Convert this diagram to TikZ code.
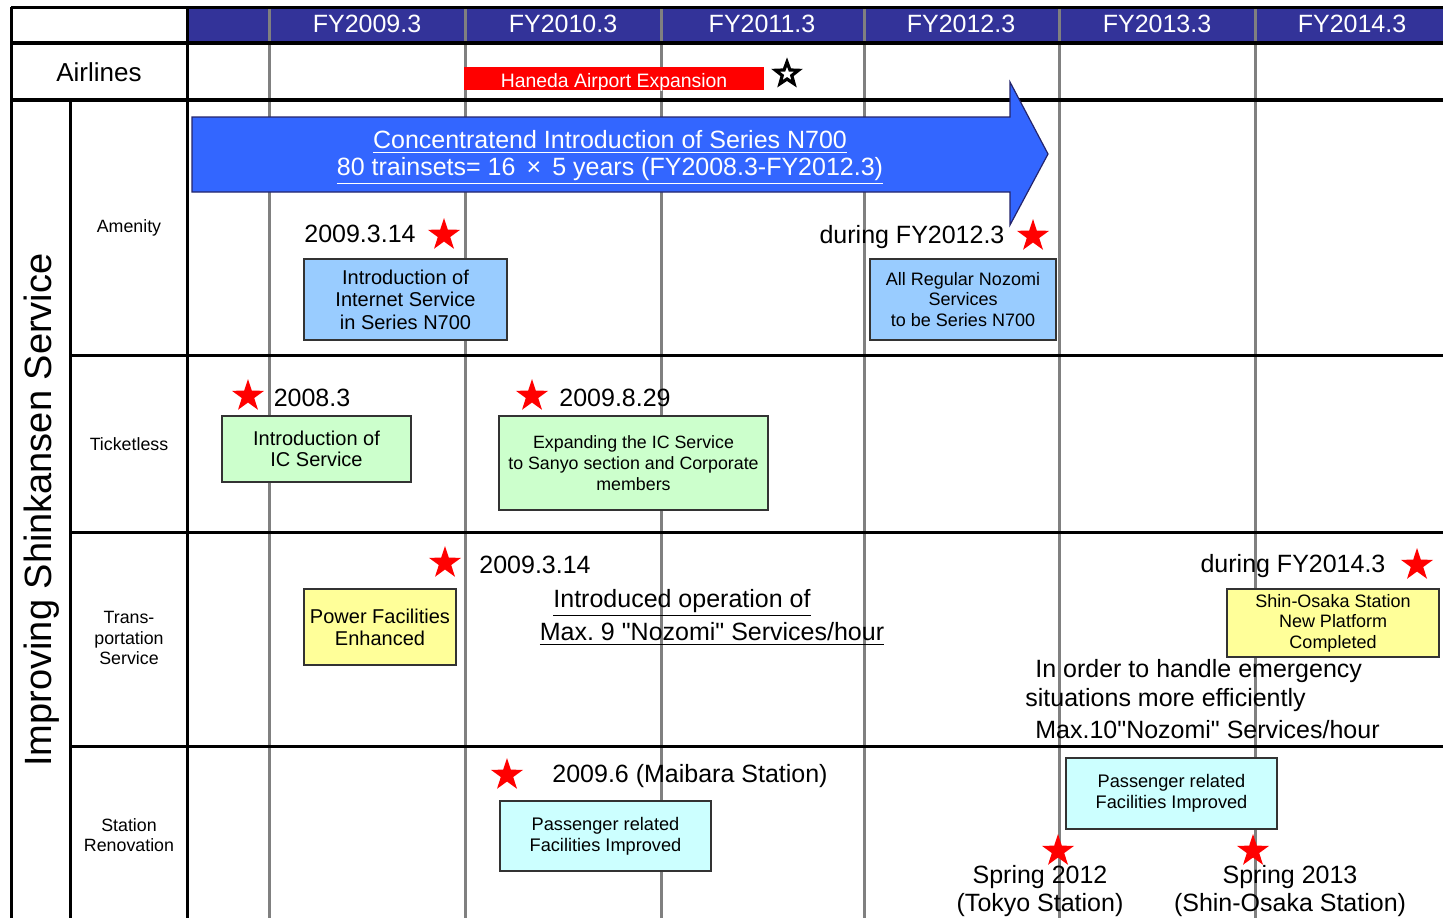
\documentclass[tikz,border=0pt]{standalone}
\usepackage{fontspec}
\setmainfont{Liberation Sans}
\usetikzlibrary{shapes.geometric}
\definecolor{headblue}{HTML}{333399}
\definecolor{arrowblue}{HTML}{3366FF}
\definecolor{amenityfill}{HTML}{99CCFF}
\definecolor{ticketfill}{HTML}{CCFFCC}
\definecolor{transfill}{HTML}{FFFF99}
\definecolor{stationfill}{HTML}{CCFFFF}

\begin{document}
\begin{tikzpicture}[x=0.5pt,y=-0.5pt,
    gridline/.style={line width=1.5pt,draw=gray},
    frameline/.style={line width=1.5pt,draw=black},
    yearlabel/.style={text=white,font=\fontsize{12.5}{14}\selectfont},
    rowlabel/.style={align=center,font=\fontsize{8.9}{10.2}\selectfont},
    redstar/.style={star,star points=5,star point ratio=2.6,fill=red,inner sep=0pt,minimum size=17pt},
    datelabel/.style={align=center,font=\fontsize{12.5}{14}\selectfont},
    eventbox/.style={draw=black!80,line width=0.6pt,align=center,inner sep=0pt},
  ]
        \useasboundingbox (0,0) rectangle (1443,918);

        % header band and year grid
        \fill[headblue] (187,7) rectangle (1443,43);
        \foreach \xg in {269,465,661,864,1059,1255}
            \draw[gridline] (\xg,7) -- (\xg,918);
        \foreach \yr/\xc in {2009/367,2010/563,2011/762,2012/961,2013/1157,2014/1352}
            \node[yearlabel] (fy\yr) at (\xc,24) {FY\yr.3};

        % table frame
        \draw[frameline] (11,7) -- (1443,7);
        \draw[line width=2pt] (11,43) -- (1443,43);
        \draw[line width=2pt] (11,100) -- (1443,100);
        \draw[frameline] (11,7) -- (11,918);
        \draw[frameline] (187,7) -- (187,918);
        \draw[frameline] (70,100) -- (70,918);
        \foreach \yl in {355,532,746}
            \draw[frameline] (70,\yl) -- (1443,\yl);

        % row headings
        \node[font=\fontsize{13}{15}\selectfont] (airlines) at (99,72) {Airlines};
        \node[rotate=90,font=\fontsize{19}{22}\selectfont] (improving) at (42,510) {Improving Shinkansen Service};
        \node[rowlabel] (amenity) at (129,228) {Amenity};
        \node[rowlabel] (ticketless) at (129,444) {Ticketless};
        \node[rowlabel] (transport) at (129,638) {Trans-\\portation\\Service};
        \node[rowlabel] (renovation) at (129,835) {Station\\Renovation};

        % airlines row
        \node[fill=red,text=white,minimum width=150pt,minimum height=11.5pt,inner sep=0pt,
              text height=9pt,text depth=0pt,
              font=\fontsize{9.7}{11}\selectfont] (haneda) at (614,78.5) {Haneda Airport Expansion};
        \node[star,star points=5,star point ratio=2.4,draw=black,fill=white,line width=1.6pt,
              inner sep=0pt,minimum size=12pt] (hanedastar) at (787,74) {};

        % big arrow
        \filldraw[fill=arrowblue,draw=headblue!70!black,line width=0.6pt]
            (192,117) -- (1010,117) -- (1010,82) -- (1048,154) -- (1010,225) -- (1010,192) -- (192,192) -- cycle;
        \node[text=white,font=\fontsize{12.5}{14}\selectfont] (arrowtop) at (610,142)
            {\underline{Concentratend Introduction of Series N700}};
        \node[text=white,font=\fontsize{12.5}{14}\selectfont] (arrowbottom) at (610,171)
            {\underline{80 trainsets= 16\ \,×\ \,5 years (FY2008.3-FY2012.3)}};

        % amenity
        \node[datelabel] (internetdate) at (360,234) {2009.3.14};
        \node[redstar] (internetstar) at (444,235) {};
        \node[eventbox,fill=amenityfill,minimum width=101.5pt,minimum height=40.5pt,
              font=\fontsize{10}{11.25}\selectfont] (internet) at (405.5,299.5)
            {Introduction of\\Internet Service\\in Series N700};
        \node[datelabel] (nozomidate) at (912,237) {during FY2012.3};
        \node[redstar] (nozomistar) at (1033,236) {};
        \node[eventbox,fill=amenityfill,minimum width=93pt,minimum height=40.5pt,
              font=\fontsize{9}{10.25}\selectfont] (nozomi) at (963,299.5)
            {All Regular Nozomi\\Services\\to be Series N700};

        % ticketless
        \node[redstar] (icstar) at (248,396) {};
        \node[datelabel] (icdate) at (312,398) {2008.3};
        \node[eventbox,fill=ticketfill,minimum width=94.5pt,minimum height=33pt,
              font=\fontsize{10}{10.5}\selectfont] (icservice) at (316.5,449)
            {Introduction of\\IC Service};
        \node[redstar] (sanyostar) at (532,396) {};
        \node[datelabel] (sanyodate) at (615,398) {2009.8.29};
        \node[eventbox,fill=ticketfill,minimum width=134.5pt,minimum height=47pt,
              font=\fontsize{8.9}{10.5}\selectfont] (sanyo) at (633.5,463)
            {Expanding the IC Service\\to Sanyo section and Corporate\\members};

        % transportation service
        \node[redstar] (powerstar) at (445,563) {};
        \node[datelabel] (powerdate) at (535,565) {2009.3.14};
        \node[eventbox,fill=transfill,minimum width=76pt,minimum height=38pt,
              font=\fontsize{10}{11}\selectfont] (power) at (380,627)
            {Power Facilities\\Enhanced};
        \node[datelabel] (introtop) at (682,603) {\underline{Introduced operation of}};
        \node[datelabel] (introbottom) at (712,634) {\underline{Max.\ 9 \textquotedbl Nozomi\textquotedbl\ Services/hour}};
        \node[datelabel] (platformdate) at (1293,566) {during FY2014.3};
        \node[redstar] (platformstar) at (1417,565) {};
        \node[eventbox,fill=transfill,minimum width=106pt,minimum height=34pt,
              font=\fontsize{9}{10.25}\selectfont] (platform) at (1333,623)
            {Shin-Osaka Station\\New Platform\\Completed};
        \node[datelabel,anchor=west,inner sep=0pt] (emergencyone) at (1035,671) {In order to handle emergency};
        \node[datelabel,anchor=west,inner sep=0pt] (emergencytwo) at (1025,700) {situations more efficiently};
        \node[datelabel,anchor=west,inner sep=0pt] (emergencythree) at (1035,730) {Max.10\textquotedbl Nozomi\textquotedbl\ Services/hour};

        % station renovation
        \node[redstar] (maibarastar) at (507,775) {};
        \node[datelabel] (maibaradate) at (690,776) {2009.6 (Maibara Station)};
        \node[eventbox,fill=stationfill,minimum width=105.5pt,minimum height=35pt,
              font=\fontsize{9.1}{10.5}\selectfont] (maibara) at (605.5,836)
            {Passenger related\\Facilities Improved};
        \node[eventbox,fill=stationfill,minimum width=105.5pt,minimum height=35.5pt,
              font=\fontsize{9.1}{10.5}\selectfont] (tokyo) at (1171.5,793.5)
            {Passenger related\\Facilities Improved};
        \node[redstar] (tokyostar) at (1058,851) {};
        \node[redstar] (osakastar) at (1253,851) {};
        \node[datelabel] (tokyodate) at (1040,891) {Spring 2012\\(Tokyo Station)};
        \node[datelabel] (osakadate) at (1290,891) {Spring 2013\\(Shin-Osaka Station)};
    \end{tikzpicture}
\end{document}
